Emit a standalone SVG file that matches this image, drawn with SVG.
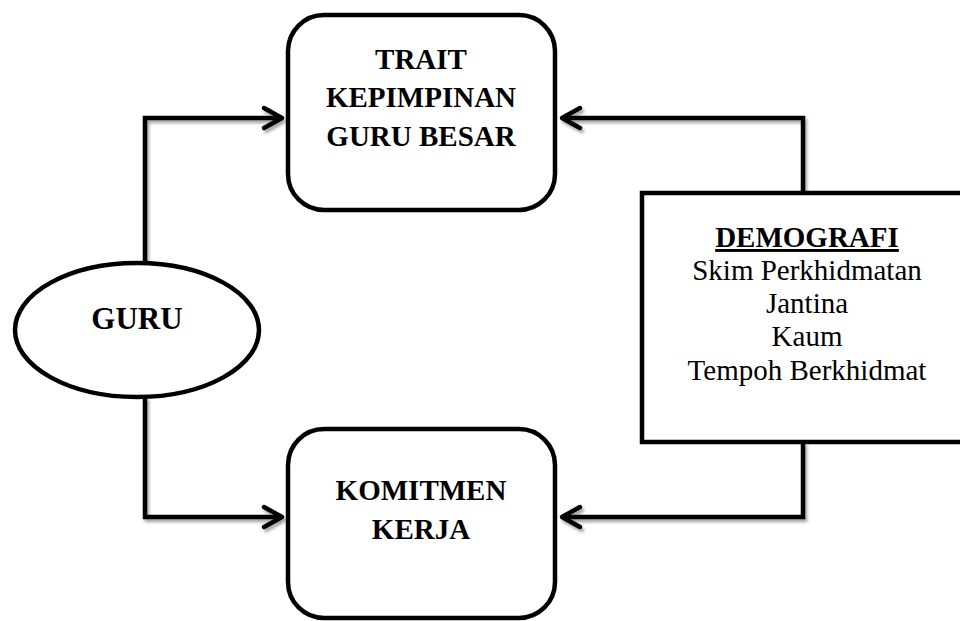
<svg xmlns="http://www.w3.org/2000/svg" width="960" height="621" viewBox="0 0 960 621">
<defs>
<style>
.box{fill:#fff;stroke:#000;stroke-width:4.5}
.ln{fill:none;stroke:#000;stroke-width:4.5;stroke-linejoin:miter}
.ah{fill:none;stroke:#000;stroke-width:4.5;stroke-linecap:round;stroke-linejoin:round}
.b{font-family:"Liberation Serif","Times New Roman",serif;font-weight:bold;font-size:29px;text-anchor:middle;fill:#000}
.r{font-family:"Liberation Serif","Times New Roman",serif;font-size:29px;text-anchor:middle;fill:#000}
</style>
<filter id="sh" x="-10%" y="-10%" width="130%" height="130%">
<feGaussianBlur in="SourceAlpha" stdDeviation="1.5"/>
<feOffset dx="2" dy="3" result="o"/>
<feComponentTransfer><feFuncA type="linear" slope="0.35"/></feComponentTransfer>
<feMerge><feMergeNode/><feMergeNode in="SourceGraphic"/></feMerge>
</filter>
</defs>
<rect width="960" height="621" fill="#fff"/>
<g id="connectors" filter="url(#sh)">
<path class="ln" d="M145,262 V118 H282"/>
<path class="ah" d="M264,108 L282,118 L264,128"/>
<path class="ln" d="M145,397 V517 H282"/>
<path class="ah" d="M264,507 L282,517 L264,527"/>
<path class="ln" d="M803,193 V118 H562"/>
<path class="ah" d="M580,108 L562,118 L580,128"/>
<path class="ln" d="M803,442 V517 H562"/>
<path class="ah" d="M580,507 L562,517 L580,527"/>
</g>
<g id="trait">
<rect class="box" x="288" y="15" width="267" height="195" rx="36"/>
<text class="b" x="421" y="69">TRAIT</text>
<text class="b" x="421" y="107">KEPIMPINAN</text>
<text class="b" x="421" y="146">GURU BESAR</text>
</g>
<g id="guru">
<ellipse class="box" cx="137" cy="330" rx="122" ry="67"/>
<text class="b" x="137" y="329" style="font-size:31px">GURU</text>
</g>
<g id="komitmen">
<rect class="box" x="288" y="429" width="267" height="189" rx="36"/>
<text class="b" x="421" y="500">KOMITMEN</text>
<text class="b" x="421" y="539">KERJA</text>
</g>
<g id="demografi">
<rect class="box" x="642" y="193" width="330" height="249"/>
<text class="b" x="807" y="247" text-decoration="underline">DEMOGRAFI</text>
<text class="r" x="807" y="280">Skim Perkhidmatan</text>
<text class="r" x="807" y="313">Jantina</text>
<text class="r" x="807" y="346">Kaum</text>
<text class="r" x="807" y="380">Tempoh Berkhidmat</text>
</g>
</svg>
